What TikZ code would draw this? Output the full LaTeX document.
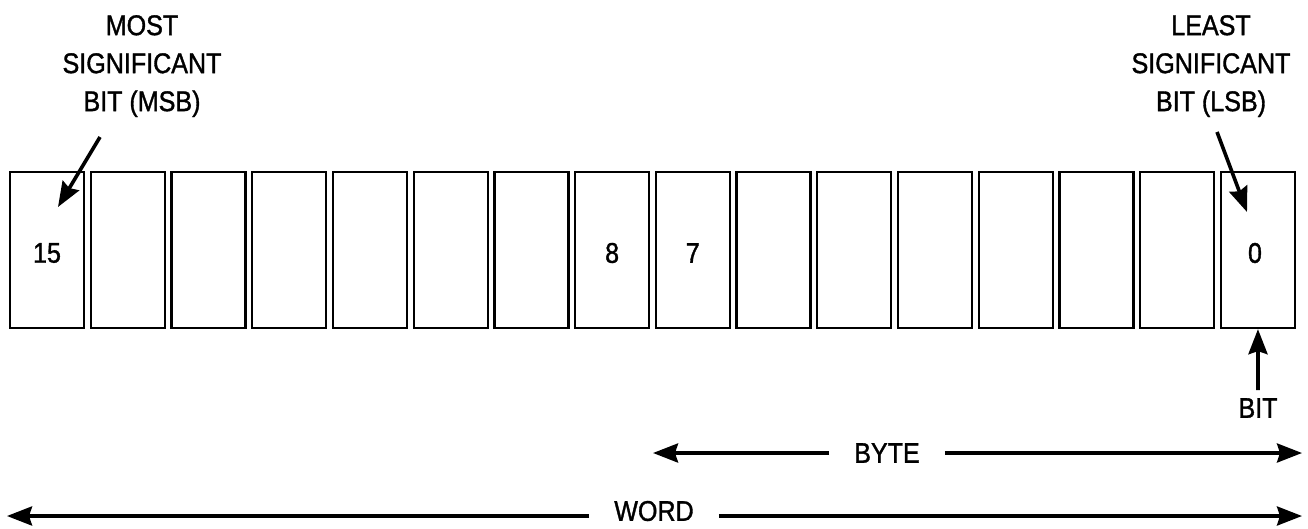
\documentclass[tikz,border=0pt]{standalone}
\usepackage{fontspec}
\setmainfont{Liberation Sans}[FakeStretch=0.88,FakeBold=1.2]
\usetikzlibrary{arrows.meta}
\begin{document}
\begin{tikzpicture}[x=1pt,y=-1pt,
  bitbox/.style={draw,line width=2.3pt,minimum width=74pt,minimum height=156pt,inner sep=0pt},
  num/.style={inner sep=0pt,font=\fontsize{28.5}{38}\selectfont},
  lbl/.style={inner sep=0pt,align=center,font=\fontsize{28.5}{38}\selectfont},
  span/.style={inner ysep=0pt,inner xsep=25pt,font=\fontsize{28.5}{38}\selectfont},
  arr/.style={line width=3.6pt,-{Stealth[length=25pt,width=19pt,inset=3pt]}}]
\useasboundingbox (0,0) rectangle (1308,528);
\foreach \i in {1,...,16}
  \node[bitbox] (b\i) at ({47+(\i-1)*80.73},250) {};
\node[num,yshift=-3pt] (n15) at (b1) {15};
\node[num,yshift=-3pt] (n8) at (b8) {8};
\node[num,yshift=-3pt] (n7) at (b9) {7};
\node[num,yshift=-3pt,xshift=-3pt] (n0) at (b16) {0};
\node[lbl,anchor=north] (msb) at (142,15) {MOST\\SIGNIFICANT\\BIT (MSB)};
\node[lbl,anchor=north] (lsb) at (1211,15) {LEAST\\SIGNIFICANT\\BIT (LSB)};
\coordinate (msbtail) at (100,137);
\coordinate (msbtip) at (58,207);
\coordinate (lsbtail) at (1217,132);
\coordinate (lsbtip) at (1247,212);
\draw[arr] (msbtail) -- (msbtip);
\draw[arr] (lsbtail) -- (lsbtip);
\node[lbl] (bit) at (1258,408) {BIT};
\draw[arr] ([yshift=8pt]bit.north) -- (b16.south);
\node[span] (byte) at (887,453) {BYTE};
\coordinate (byteL) at (653,453);
\coordinate (byteR) at (1302,453);
\draw[arr] (byte.west) -- (byteL);
\draw[arr] (byte.east) -- (byteR);
\node[span] (word) at (654,511) {WORD};
\coordinate (wordL) at (7,516);
\coordinate (wordR) at (1302,516);
\draw[arr] (word.west |- wordL) -- (wordL);
\draw[arr] (word.east |- wordR) -- (wordR);
\end{tikzpicture}
\end{document}
